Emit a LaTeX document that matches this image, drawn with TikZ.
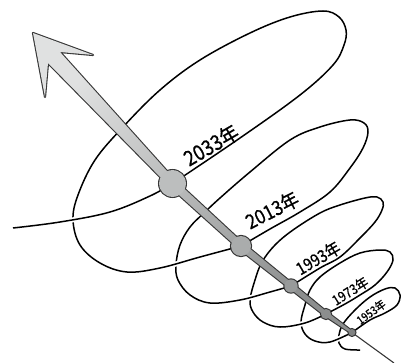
\documentclass[tikz,border=0pt]{standalone}
\usepackage{fontspec}
\newfontfamily\jpfont{Noto Sans CJK JP}[FakeBold=0.7]
\definecolor{shaftlight}{RGB}{224,225,225}
\definecolor{shaftdark}{RGB}{140,142,142}
\definecolor{rimgray}{RGB}{55,55,55}
\definecolor{beadA}{RGB}{188,190,190}
\definecolor{beadB}{RGB}{170,172,172}
\definecolor{beadC}{RGB}{152,154,154}
\definecolor{beadD}{RGB}{140,142,142}
\definecolor{beadE}{RGB}{128,130,130}
\newcommand{\shaftoutline}{(33,329) -- (93,307) -- (60,310) -- (175.5,181.5) -- (243,119) -- (293,78) -- (327,50) -- (352.6,30.5) -- (351.4,28.5) -- (325,46) -- (289,74) -- (239,113) -- (169.5,175.5) -- (48,299) -- (45,265) -- cycle}
\begin{document}
\begin{tikzpicture}[x=1pt, y=1pt,
  coil/.style={line width=1.5pt, preaction={draw=white, line width=5pt}},
  bead/.style={circle, inner sep=0pt, draw=none},
  yearlabel/.style={inner sep=0pt, font=\jpfont\fontsize{#1}{#1}\selectfont}]
\useasboundingbox (0,0) rectangle (401,362);
\coordinate (c2033) at (172.5,178.5);
\coordinate (c2013) at (241,116);
\coordinate (c1993) at (291,76);
\coordinate (c1973) at (326,48);
\coordinate (c1953) at (352,29.5);

\draw[coil] plot[smooth, tension=0.6] coordinates {(c1953) (370,42) (385,49) (397,57) (400,67) (395,74) (385,73) (370,65) (355,52) (343,38) (339,27) (339,19) (345,13) (360,12)};
\draw[coil] plot[smooth, tension=0.6] coordinates {(c1973) (345,58) (360,67) (375,77) (387,90) (393,102) (390,110) (380,112) (360,109) (340,99) (320,85) (310,72) (305,57) (301,40) (305,28) (315,21) (330,20) (c1953)};
\draw[coil] plot[smooth, tension=0.6] coordinates {(c1993) (320,94) (340,105) (360,124) (375,140) (382,152) (383,160) (377,165) (365,164) (340,157) (320,149) (293,132) (275,117) (262,100) (255,82) (250,62) (253,50) (263,40) (280,35) (305,39) (c1973)};
\draw[coil] plot[smooth, tension=0.6] coordinates {(c2013) (270,133) (300,150) (330,170) (350,194) (363,214) (368,230) (364,239) (350,242) (320,235) (290,222) (250,190) (220,164) (205,150) (190,135) (180,117) (176,97) (178,82) (190,67) (210,59) (240,62) (270,70) (c1993)};
\draw[coil] plot[smooth, tension=0.6] coordinates {(c2033) (240,224) (300,267) (333,297) (344,317) (346,332) (339,345) (323,351) (290,345) (250,329) (200,302) (160,272) (123,235) (95,202) (78,167) (73,142) (80,117) (100,99) (127,90) (160,94) (200,105) (c2013)};
\draw[coil] plot[smooth, tension=0.6] coordinates {(13,134) (60,140) (110,150) (150,166) (c2033)};

\draw[rimgray, line width=1.1pt] (c1953) -- (394,-1);
\draw[rimgray, line width=2.2pt, line join=round] \shaftoutline;
\foreach \c/\r in {c2033/13.4, c2013/10, c1993/6.6, c1973/5, c1953/3.4}
  \draw[rimgray, line width=2.2pt] (\c) circle (\r);
\shade[top color=shaftlight, bottom color=shaftdark, shading angle=45] \shaftoutline;
\node[bead, minimum size=26.8pt, fill=beadA] (n2033) at (c2033) {};
\node[bead, minimum size=20pt, fill=beadB] (n2013) at (c2013) {};
\node[bead, minimum size=13.2pt, fill=beadC] (n1993) at (c1993) {};
\node[bead, minimum size=10pt, fill=beadD] (n1973) at (c1973) {};
\node[bead, minimum size=6.8pt, fill=beadE] (n1953) at (c1953) {};

\node[yearlabel=21pt, rotate=30] (t2033) at (211,217) {\scalebox{0.88}[1]{2033年}};
\node[yearlabel=20pt, rotate=27] (t2013) at (272,152) {\scalebox{0.88}[1]{2013年}};
\node[yearlabel=17pt, rotate=30] (t1993) at (318,104) {\scalebox{0.88}[1]{1993年}};
\node[yearlabel=14pt, rotate=32] (t1973) at (350,71) {\scalebox{0.88}[1]{1973年}};
\node[yearlabel=11.5pt, rotate=36] (t1953) at (371,50) {\scalebox{0.88}[1]{1953年}};
\end{tikzpicture}
\end{document}
